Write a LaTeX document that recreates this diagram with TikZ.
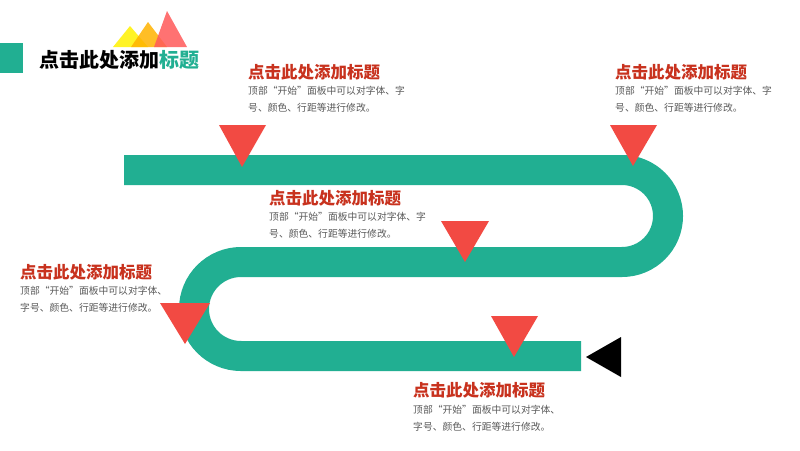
\documentclass[tikz,border=0pt]{standalone}
\usepackage{fontspec}
\newfontfamily\cjk{Noto Sans CJK SC}
\definecolor{tealband}{HTML}{21AF92}
\definecolor{tri}{HTML}{F24A43}
\definecolor{headred}{HTML}{C8321E}
\definecolor{bodygray}{HTML}{595959}
\definecolor{myyellow}{HTML}{FFF200}
\definecolor{myorange}{HTML}{FFB300}
\definecolor{myred}{HTML}{FF5A5A}
\tikzset{
  headtxt/.style={anchor=west,inner sep=0pt,font=\cjk\bfseries\fontsize{16.5}{19}\selectfont,text=headred},
  bodytxt/.style={anchor=north west,inner sep=0pt,font=\cjk\fontsize{9.8}{17}\selectfont,text=bodygray,align=left},
  redtri/.style={fill=tri,draw=none}
}
\begin{document}
\begin{tikzpicture}[x=1pt,y=-1pt]
\useasboundingbox (0,0) rectangle (800,450);
\fill[white] (0,0) rectangle (800,450);
% title
\fill[tealband] (0,43) rectangle (23,73);
\fill[myyellow,opacity=0.85] (113,47) -- (130,26) -- (148,47) -- cycle;
\fill[myorange,opacity=0.85] (131,47) -- (148,22) -- (167,47) -- cycle;
\fill[myred,opacity=0.85] (154,47) -- (167,11) -- (187,47) -- cycle;
\node[anchor=west,inner sep=0pt,font=\cjk\bfseries\fontsize{20}{22}\selectfont] (title) at (39,60) {点击此处添加\textcolor{tealband}{标题}};
% band
\draw[tealband,line width=30pt] (124,170) -- (622,170) arc(-90:90:46) -- (241,262) arc(270:90:47) -- (581,356);
% triangles
\fill[redtri] (219,125) -- (266,125) -- (242,167) -- cycle;
\fill[redtri] (610,125) -- (657,125) -- (633,166) -- cycle;
\fill[redtri] (441,221) -- (489,221) -- (465,262) -- cycle;
\fill[redtri] (160,303) -- (210,303) -- (185,344) -- cycle;
\fill[redtri] (491,316) -- (538,316) -- (514,357) -- cycle;
\fill[black] (586,357) -- (621,337) -- (621,377) -- cycle;
% text blocks
\node[headtxt] (h1) at (248,72) {点击此处添加标题};
\node[bodytxt] (b1) at (248,85.5) {顶部“开始”面板中可以对字体、字\\号、颜色、行距等进行修改。};
\node[headtxt] (h2) at (615,72) {点击此处添加标题};
\node[bodytxt] (b2) at (615,85.5) {顶部“开始”面板中可以对字体、字\\号、颜色、行距等进行修改。};
\node[headtxt] (h3) at (269,198) {点击此处添加标题};
\node[bodytxt] (b3) at (269,212) {顶部“开始”面板中可以对字体、字\\号、颜色、行距等进行修改。};
\node[headtxt] (h4) at (20,272) {点击此处添加标题};
\node[bodytxt] (b4) at (20,286) {顶部“开始”面板中可以对字体、\\字号、颜色、行距等进行修改。};
\node[headtxt] (h5) at (413,390) {点击此处添加标题};
\node[bodytxt] (b5) at (413,405) {顶部“开始”面板中可以对字体、\\字号、颜色、行距等进行修改。};
\end{tikzpicture}
\end{document}
